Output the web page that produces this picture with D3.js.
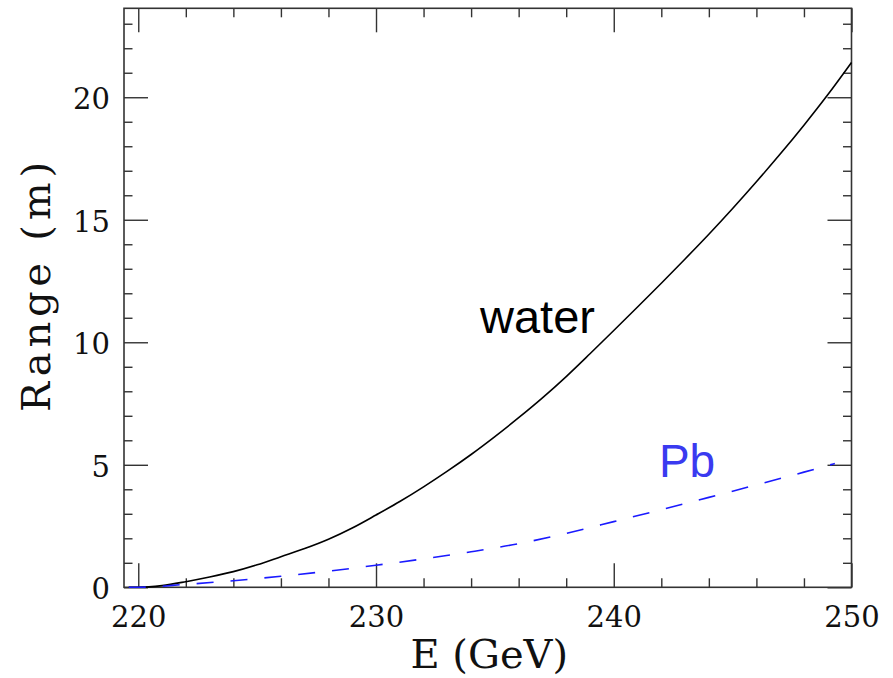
<!DOCTYPE html>
<html>
<head>
<meta charset="utf-8">
<script src="https://cdn.jsdelivr.net/npm/d3@7"></script>
<style>
  html, body { margin: 0; padding: 0; background: #fff; }
  svg { display: block; }
</style>
</head>
<body>
<svg id="chart" width="893" height="678"></svg>
<script>
// Data
const waterEnergy = [219.6, 220, 221, 222, 223, 224, 225, 226, 227, 228, 229, 230, 231, 232, 233, 234, 235,
                     236, 237, 238, 239, 240, 241, 242, 243, 244, 245, 246, 247, 248, 249, 250];
const waterRange  = [0, 0, 0.07, 0.23, 0.42, 0.64, 0.92, 1.25, 1.58, 1.96, 2.42, 2.95, 3.5, 4.1, 4.74, 5.42, 6.15,
                     6.92, 7.73, 8.6, 9.53, 10.48, 11.44, 12.41, 13.4, 14.41, 15.46, 16.55, 17.68, 18.86, 20.1, 21.42];

const pbEnergy = [219.6, 220, 222, 224, 226, 228, 230, 232, 234, 236, 238, 240, 242, 244, 246, 248, 249.3];
const pbRange  = [0, 0, 0.12, 0.27, 0.45, 0.66, 0.9, 1.16, 1.45, 1.78, 2.2, 2.68, 3.17, 3.67, 4.18, 4.7, 5.05];

const xMajor = [220, 230, 240, 250];
const xMinor = [222, 224, 226, 228, 232, 234, 236, 238, 242, 244, 246, 248];
const yMajor = [0, 5, 10, 15, 20];
const yMinor = [1, 2, 3, 4, 6, 7, 8, 9, 11, 12, 13, 14, 16, 17, 18, 19, 21, 22, 23];

const xDomain = [219.4, 250];
const yDomain = [0, 23.63];

// Frame
const frame = { left: 124, top: 8.3, right: 851.5, bottom: 587.3 };
const tickFont = "'DejaVu Serif', serif";

const $svg = d3.select("#chart");

const x = d3.scaleLinear().domain(xDomain).range([frame.left, frame.right]);
const y = d3.scaleLinear().domain(yDomain).range([frame.bottom, frame.top]);

function styleAxis(g) {
    g.select(".domain").remove();
    g.selectAll(".tick line").attr("stroke", "#333").attr("stroke-width", 1.4);
    g.selectAll("text")
      .attr("font-family", tickFont)
      .attr("font-size", 29)
      .attr("fill", "#111");
}

// Bottom axis (labels + major ticks)
$svg.append("g")
    .attr("transform", `translate(0,${frame.bottom})`)
    .call(d3.axisBottom(x).tickValues(xMajor).tickSizeInner(-24).tickSizeOuter(0).tickPadding(19.5)
        .tickFormat(d3.format("d")))
    .call(styleAxis);
$svg.append("g")
    .attr("transform", `translate(0,${frame.bottom})`)
    .call(d3.axisBottom(x).tickValues(xMinor).tickSizeInner(-9).tickSizeOuter(0).tickFormat(() => ""))
    .call(styleAxis);

// Top axis (mirror ticks)
$svg.append("g")
    .attr("transform", `translate(0,${frame.top})`)
    .call(d3.axisTop(x).tickValues(xMajor).tickSizeInner(-24).tickSizeOuter(0).tickFormat(() => ""))
    .call(styleAxis);
$svg.append("g")
    .attr("transform", `translate(0,${frame.top})`)
    .call(d3.axisTop(x).tickValues(xMinor).tickSizeInner(-9).tickSizeOuter(0).tickFormat(() => ""))
    .call(styleAxis);

// Left axis
$svg.append("g")
    .attr("transform", `translate(${frame.left},0)`)
    .call(d3.axisLeft(y).tickValues(yMajor).tickSizeInner(-24).tickSizeOuter(0).tickPadding(14)
        .tickFormat(d3.format("d")))
    .call(styleAxis)
    .call(g => g.selectAll("text").attr("dy", "0.4em"));
$svg.append("g")
    .attr("transform", `translate(${frame.left},0)`)
    .call(d3.axisLeft(y).tickValues(yMinor).tickSizeInner(-8.5).tickSizeOuter(0).tickFormat(() => ""))
    .call(styleAxis);

// Right axis (mirror ticks)
$svg.append("g")
    .attr("transform", `translate(${frame.right},0)`)
    .call(d3.axisRight(y).tickValues(yMajor).tickSizeInner(-24).tickSizeOuter(0).tickFormat(() => ""))
    .call(styleAxis);
$svg.append("g")
    .attr("transform", `translate(${frame.right},0)`)
    .call(d3.axisRight(y).tickValues(yMinor).tickSizeInner(-8.5).tickSizeOuter(0).tickFormat(() => ""))
    .call(styleAxis);

// Frame box
$svg.append("rect")
    .attr("x", frame.left)
    .attr("y", frame.top)
    .attr("width", frame.right - frame.left)
    .attr("height", frame.bottom - frame.top)
    .attr("fill", "none")
    .attr("stroke", "#333")
    .attr("stroke-width", 1.6);

// Curves
const line = d3.line()
    .x(d => x(d[0]))
    .y(d => y(d[1]))
    .curve(d3.curveMonotoneX);

$svg.append("path")
    .datum(d3.zip(waterEnergy, waterRange))
    .attr("d", line)
    .attr("fill", "none")
    .attr("stroke", "#000")
    .attr("stroke-width", 1.6);

$svg.append("path")
    .datum(d3.zip(pbEnergy, pbRange))
    .attr("d", line)
    .attr("fill", "none")
    .attr("stroke", "#1a1aff")
    .attr("stroke-width", 1.6)
    .attr("stroke-dasharray", "17,17");

// Curve labels
$svg.append("text")
    .attr("x", 480)
    .attr("y", y(10.37))
    .attr("font-family", "'Liberation Sans', Arial, sans-serif")
    .attr("font-size", 47)
    .attr("fill", "#000")
    .text("water");

$svg.append("text")
    .attr("x", x(241.9))
    .attr("y", y(4.49))
    .attr("font-family", "'Liberation Sans', Arial, sans-serif")
    .attr("font-size", 46)
    .attr("fill", "#3a3af0")
    .text("Pb");

// Axis titles
$svg.append("text")
    .attr("x", (frame.left + frame.right) / 2 + 1.5)
    .attr("y", 668)
    .attr("text-anchor", "middle")
    .attr("font-family", tickFont)
    .attr("font-size", 40)
    .attr("fill", "#111")
    .text("E (GeV)");

$svg.append("text")
    .attr("transform", `translate(50,287) rotate(-90)`)
    .attr("text-anchor", "middle")
    .attr("font-family", tickFont)
    .attr("font-size", 40)
    .attr("fill", "#111")
    .attr("textLength", 250)
    .attr("lengthAdjust", "spacing")
    .text("Range (m)");
</script>
</body>
</html>
